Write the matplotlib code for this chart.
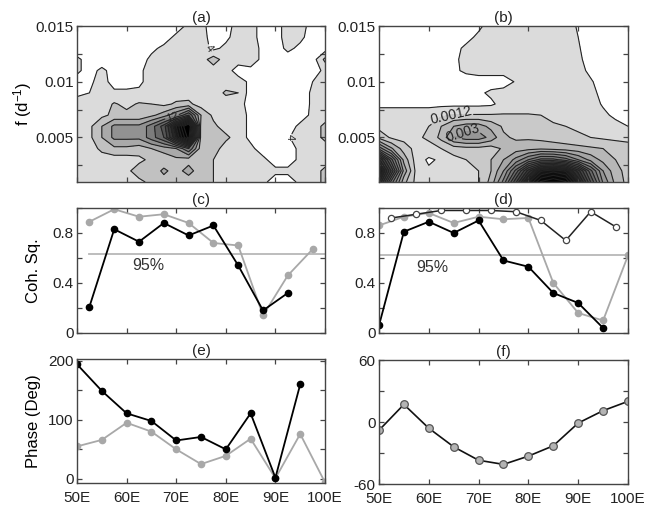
import numpy as np
import matplotlib
matplotlib.use("Agg")
import matplotlib.pyplot as plt
from matplotlib.ticker import MultipleLocator, FormatStrFormatter, FuncFormatter

plt.rcParams['font.family'] = ['Liberation Sans', 'DejaVu Sans']
plt.rcParams['font.size'] = 11
plt.rcParams['axes.unicode_minus'] = False
plt.rcParams['mathtext.fontset'] = 'custom'
plt.rcParams['mathtext.rm'] = 'Liberation Sans'
plt.rcParams['mathtext.it'] = 'Liberation Sans:italic'

# ---- data ----
grid_lon = [50, 52.5, 55, 57.5, 60, 62.5, 65, 67.5, 70, 72.5, 75, 77.5, 80,
            82.5, 85, 87.5, 90, 92.5, 95, 97.5, 100]
grid_freq = [0.015, 0.014, 0.013, 0.012, 0.011, 0.010, 0.009, 0.008, 0.007,
             0.006, 0.005, 0.004, 0.003, 0.002, 0.001]

# (a) spectral power, rows from f=0.015 down to f=0.001
power_a = [
    [2.5, 2.5, 2.5, 2.5, 2.5, 2.5, 2.5, 2.5, 3.0, 4.5, 5.0, 2.5, 3.0, 5.0, 5.0, 3.0, 3.0, 5.0, 5.0, 3.0, 3.0],
    [2.5, 2.5, 2.5, 2.5, 2.5, 2.5, 2.5, 3.0, 4.5, 5.0, 5.0, 3.0, 3.5, 5.0, 5.0, 3.0, 3.0, 5.0, 4.5, 3.0, 3.0],
    [2.5, 2.5, 2.5, 2.5, 2.5, 2.5, 3.5, 4.5, 5.0, 5.0, 5.0, 3.5, 4.5, 5.0, 5.0, 3.5, 3.0, 4.5, 3.5, 3.0, 3.0],
    [4.5, 3.0, 2.5, 2.5, 2.5, 3.0, 4.5, 5.0, 5.0, 5.0, 5.0, 7.0, 5.0, 5.0, 5.0, 3.5, 2.5, 3.0, 3.0, 3.0, 6.5],
    [4.5, 3.0, 4.6, 3.0, 3.0, 3.5, 5.0, 5.0, 5.0, 5.0, 5.0, 5.0, 5.0, 3.0, 3.5, 3.0, 2.5, 2.5, 2.5, 3.0, 4.5],
    [3.0, 3.5, 5.0, 3.0, 3.0, 3.5, 5.0, 5.0, 5.0, 5.0, 5.0, 5.0, 5.0, 5.0, 3.5, 2.5, 2.5, 2.5, 2.5, 4.0, 5.0],
    [3.5, 4.0, 5.0, 4.5, 4.5, 4.5, 5.0, 5.0, 5.0, 5.0, 5.0, 5.0, 6.3, 6.0, 3.0, 2.5, 2.5, 2.5, 2.5, 4.5, 5.0],
    [5.0, 5.0, 5.0, 6.2, 5.5, 6.2, 6.0, 5.5, 6.3, 6.5, 5.0, 5.0, 5.0, 5.0, 3.0, 2.5, 2.5, 2.5, 2.5, 4.5, 5.0],
    [5.0, 5.0, 5.5, 6.5, 6.5, 6.5, 7.5, 9.0, 11.5, 16.0, 8.0, 5.5, 5.0, 5.0, 3.5, 2.5, 2.5, 2.5, 3.0, 4.5, 5.0],
    [5.0, 5.5, 8.0, 10.5, 10.5, 10.5, 13.0, 17.0, 26.0, 36.0, 7.0, 6.5, 5.0, 5.0, 3.5, 2.5, 2.5, 3.0, 4.5, 5.0, 6.5],
    [5.0, 5.5, 8.0, 10.5, 10.5, 10.5, 13.0, 16.0, 24.0, 33.0, 7.0, 7.0, 6.5, 5.0, 3.5, 2.5, 2.5, 3.8, 5.0, 5.0, 6.5],
    [5.0, 5.0, 6.5, 7.5, 7.5, 7.0, 8.0, 9.0, 10.0, 14.0, 7.0, 7.0, 5.0, 5.0, 4.5, 3.0, 2.5, 3.0, 4.5, 5.0, 5.0],
    [5.0, 5.0, 5.0, 5.0, 5.0, 5.5, 6.5, 6.5, 7.5, 7.0, 6.5, 6.0, 5.0, 5.0, 5.0, 4.5, 3.0, 3.0, 4.5, 5.0, 5.0],
    [5.0, 5.0, 5.0, 5.0, 5.5, 7.0, 6.5, 8.5, 7.0, 9.0, 6.5, 6.0, 5.0, 5.0, 5.0, 5.0, 4.5, 4.5, 5.0, 5.0, 6.5],
    [5.0, 5.0, 5.0, 5.0, 5.0, 5.5, 6.5, 7.0, 6.5, 6.5, 6.5, 6.0, 5.0, 5.0, 5.0, 4.5, 3.0, 3.0, 4.5, 5.0, 6.5],
]

# (b) spectral power in units of 1e-4, rows from f=0.015 down to f=0.001
power_b = [
    [3, 3, 3, 3, 3, 3, 3, 3, 5, 8, 8, 8, 8, 8, 8, 8, 5.5, 3, 3, 3, 3],
    [3, 3, 3, 3, 3, 3, 3, 4.5, 7, 8, 8, 8, 8, 8, 8, 8, 6, 3, 3, 3, 3],
    [3, 3, 3, 3, 3, 3, 4.5, 7, 8, 8, 8, 8, 8, 8, 8, 8, 6.5, 3.5, 3, 3, 3],
    [3, 3, 3, 3, 3, 3, 5, 7.5, 8, 8, 8, 8, 8, 8, 8, 8, 7, 4, 3, 3, 3],
    [3, 3, 3, 3, 3, 3, 5, 7, 8, 8, 8, 8, 8, 8, 8, 8, 7.5, 5, 3, 3, 3],
    [3, 3, 3, 3, 3, 3, 3.5, 3.5, 3.5, 3.5, 3.5, 6.5, 8, 8, 8, 8, 8, 6.5, 4, 3, 3],
    [3, 3, 3, 3, 3, 3, 3, 3.5, 5, 7, 8, 8, 8, 8, 8, 8, 8, 7, 5, 3, 3],
    [5, 5, 5, 5, 4.5, 4.5, 4.5, 4.5, 4.5, 5, 8, 8, 8, 8, 8, 8, 8, 8, 5.5, 4, 3.5],
    [8, 8, 8, 8, 9, 11, 12.5, 12.5, 12.5, 12.5, 12.5, 12.5, 12.5, 12, 10, 9, 8.5, 8, 7, 5, 4],
    [10, 8, 8, 9, 12, 18, 24, 27, 27, 22, 17, 15, 15, 14, 13, 12, 11, 10, 9, 7.5, 6],
    [16, 11, 10, 11, 13, 20, 30, 33, 33, 28, 19, 17, 17, 16, 15, 14, 13, 12, 11, 10, 9],
    [40, 25, 15, 10, 10, 12, 15, 16, 16, 15, 19, 21, 22, 23, 22, 21, 20, 19, 18, 17, 16],
    [80, 50, 22, 9, 5, 7, 10, 12, 14, 18, 24, 32, 42, 50, 50, 45, 36, 28, 22, 18, 15],
    [100, 65, 28, 10, 7, 8, 9, 10, 12, 18, 30, 50, 75, 95, 100, 95, 75, 50, 30, 20, 16],
    [85, 45, 20, 10, 8, 8, 9, 10, 12, 20, 38, 65, 95, 115, 120, 115, 90, 60, 35, 22, 16],
]

# (c) coherence squared
c_lon = [52.5, 57.5, 62.5, 67.5, 72.5, 77.5, 82.5, 87.5, 92.5]
c_black = [0.21, 0.83, 0.73, 0.88, 0.78, 0.86, 0.54, 0.18, 0.32]
c_gray_lon = [52.5, 57.5, 62.5, 67.5, 72.5, 77.5, 82.5, 87.5, 92.5, 97.5]
c_gray = [0.89, 0.99, 0.93, 0.95, 0.88, 0.72, 0.70, 0.14, 0.46, 0.67]
c_sig = 0.63

# (d) coherence squared
d_lon = [50, 55, 60, 65, 70, 75, 80, 85, 90, 95]
d_black = [0.06, 0.81, 0.89, 0.80, 0.90, 0.58, 0.53, 0.32, 0.24, 0.04]
d_open_lon = [52.5, 57.5, 62.5, 67.5, 72.5, 77.5, 82.5, 87.5, 92.5, 97.5]
d_open = [0.92, 0.95, 0.98, 0.98, 0.98, 0.97, 0.90, 0.74, 0.97, 0.85]
d_gray_lon = [50, 55, 60, 65, 70, 75, 80, 85, 90, 95, 100]
d_gray = [0.86, 0.93, 0.96, 0.88, 0.93, 0.91, 0.92, 0.40, 0.16, 0.10, 0.62]
d_sig = 0.62

# (e) phase
e_lon = [50, 55, 60, 65, 70, 75, 80, 85, 90, 95]
e_black = [194, 149, 111, 98, 65, 71, 50, 111, 2, 160]
e_gray_lon = [50, 55, 60, 65, 70, 75, 80, 85, 90, 95, 100]
e_gray = [55, 66, 95, 80, 50, 25, 39, 68, 1, 76, -6]

# (f) phase
f_lon = [50, 55, 60, 65, 70, 75, 80, 85, 90, 95, 100]
f_phase = [-8, 17, -6, -24, -37, -41, -33, -23, -1, 11, 20]

levels_a = list(range(4, 34, 2))
levels_b = list(range(6, 132, 6))

GRAY = '#a8a8a8'
SIG = '#b8b8b8'


def shades(n, top=0.86, power=1.7):
    return ['white'] + [str(round(top * (1 - k / (n - 1)) ** power, 3)) for k in range(n)]


def style(ax, xlabels=False):
    ax.set_xlim(50, 100)
    ax.xaxis.set_major_locator(MultipleLocator(10))
    ax.tick_params(which='both', direction='in', top=True, right=True,
                   length=3.6, width=0.9, color='#444', labelcolor='#222',
                   pad=2.5, labelsize=11)
    ax.tick_params(axis='x', pad=5.5)
    for s in ax.spines.values():
        s.set_linewidth(1.0)
        s.set_color('#444')
    if xlabels:
        ax.xaxis.set_major_formatter(FuncFormatter(lambda v, p: '%dE' % v))
    else:
        ax.tick_params(labelbottom=False)


def contour_panel(ax, z, levels, labels, fmt, size):
    ax.contourf(lon, freq, z, levels=[0] + levels + [1000], colors=shades(len(levels)))
    plain = [v for v in levels if v not in labels]
    ax.contour(lon, freq, z, levels=plain, colors='#222', linewidths=0.8)
    for v, spots in labels.items():
        cs = ax.contour(lon, freq, z, levels=[v], colors='#222', linewidths=0.8)
        ax.clabel(cs, manual=spots, fmt=fmt, fontsize=size, inline_spacing=1)


fig = plt.figure(figsize=(6.55, 5.08), dpi=100)
ax_a = fig.add_axes([0.1176, 0.6417, 0.3786, 0.3071])
ax_b = fig.add_axes([0.5786, 0.6417, 0.3802, 0.3071])
ax_c = fig.add_axes([0.1176, 0.3445, 0.3786, 0.2461])
ax_d = fig.add_axes([0.5786, 0.3445, 0.3802, 0.2461])
ax_e = fig.add_axes([0.1176, 0.0492, 0.3786, 0.2441])
ax_f = fig.add_axes([0.5786, 0.0472, 0.3802, 0.2441])

lon = np.array(grid_lon)
freq = np.array(grid_freq)[::-1]

# (a)
contour_panel(ax_a, np.array(power_a)[::-1], levels_a,
              {12: [(69.0, 0.0071)], 4: [(74.4, 0.0112), (92.3, 0.005)]},
              '%d', 8)

# (b)
contour_panel(ax_b, np.array(power_b)[::-1], levels_b,
              {12: [(64.5, 0.0069)], 30: [(67.0, 0.0052)]},
              {12: '0.0012', 30: '0.003'}, 10)

for ax in (ax_a, ax_b):
    ax.set_ylim(0.001, 0.015)
    ax.yaxis.set_major_locator(MultipleLocator(0.005))
    ax.yaxis.set_minor_locator(MultipleLocator(0.0025))
    ax.yaxis.set_major_formatter(FormatStrFormatter('%g'))
    style(ax)
ax_a.set_ylabel('f (d$^{-1}$)', fontsize=12)
ax_a.yaxis.set_label_coords(-0.175, 0.5)

# (c)
ax_c.plot([52.5, 100], [c_sig, c_sig], color=SIG, lw=1.3)
ax_c.plot(c_gray_lon, c_gray, color=GRAY, lw=1.3, marker='o', ms=4.5)
ax_c.plot(c_lon, c_black, color='k', lw=1.3, marker='o', ms=4.5)
ax_c.text(64.3, 0.54, '95%', ha='center', va='center', fontsize=11.5, color='#333')

# (d)
ax_d.plot([50, 100], [d_sig, d_sig], color=SIG, lw=1.3)
ax_d.plot(d_gray_lon, d_gray, color=GRAY, lw=1.3, marker='o', ms=4.5)
ax_d.plot(d_open_lon, d_open, color='#222', lw=1.1, marker='o', ms=4.5,
          mfc='white', mec='#444', mew=0.9)
ax_d.plot(d_lon, d_black, color='k', lw=1.3, marker='o', ms=4.5)
ax_d.text(60.8, 0.52, '95%', ha='center', va='center', fontsize=11.5, color='#333')

for ax in (ax_c, ax_d):
    ax.set_ylim(0, 1)
    ax.yaxis.set_major_locator(MultipleLocator(0.4))
    ax.yaxis.set_minor_locator(MultipleLocator(0.2))
    ax.yaxis.set_major_formatter(FormatStrFormatter('%g'))
    style(ax)
ax_c.set_ylabel('Coh. Sq.', fontsize=12)
ax_c.yaxis.set_label_coords(-0.145, 0.5)

# (e)
ax_e.plot(e_gray_lon, e_gray, color=GRAY, lw=1.3, marker='o', ms=4.5)
ax_e.plot(e_lon, e_black, color='k', lw=1.3, marker='o', ms=4.5)
ax_e.set_ylim(-7, 203)
ax_e.yaxis.set_major_locator(MultipleLocator(100))
ax_e.yaxis.set_minor_locator(MultipleLocator(50))
style(ax_e, xlabels=True)
ax_e.set_ylabel('Phase (Deg)', fontsize=12)
ax_e.yaxis.set_label_coords(-0.145, 0.5)

# (f)
ax_f.plot(f_lon, f_phase, color='#111', lw=1.2, marker='o', ms=5.5,
          mfc='#b4b4b4', mec='#555', mew=0.9)
ax_f.set_ylim(-60, 60)
ax_f.yaxis.set_major_locator(MultipleLocator(60))
ax_f.yaxis.set_minor_locator(MultipleLocator(30))
style(ax_f, xlabels=True)

for ax, t in zip((ax_a, ax_b, ax_c, ax_d, ax_e, ax_f), 'abcdef'):
    ax.set_title('(%s)' % t, fontsize=11, pad=3, color='#222')

fig.savefig('out.png', dpi=100)
